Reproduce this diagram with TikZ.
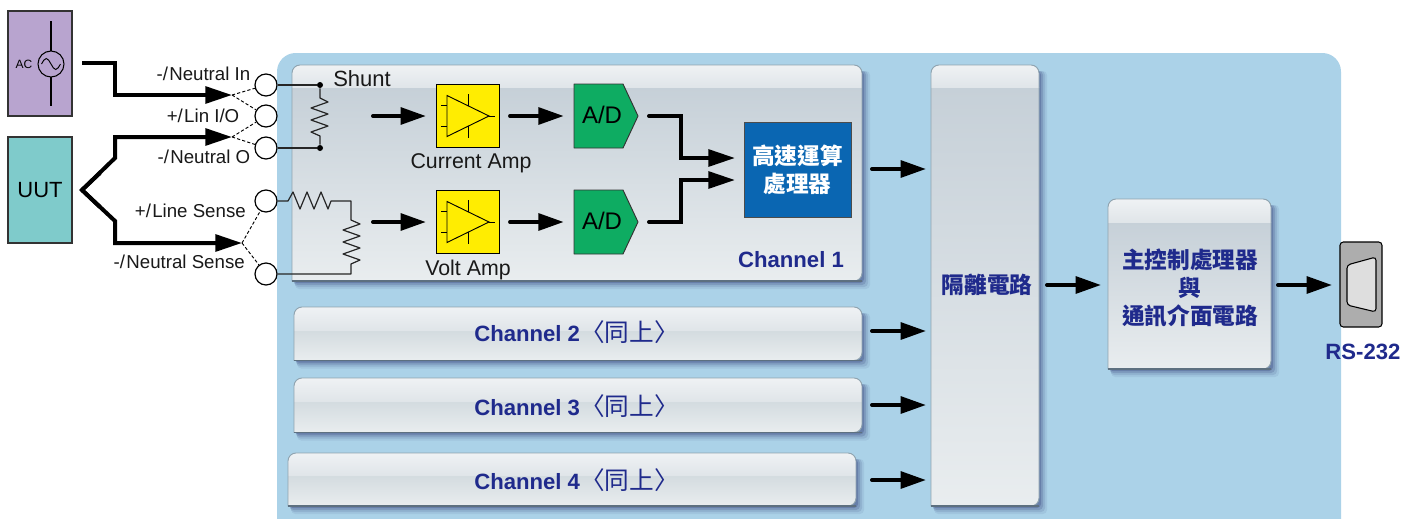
\documentclass[tikz,border=0pt]{standalone}
\usepackage{fontspec}
\setmainfont{Liberation Sans}
\newfontfamily\cjk{Noto Sans CJK TC}
\usetikzlibrary{arrows.meta,fit}
\definecolor{panel}{HTML}{ABD2E8}
\definecolor{navy}{HTML}{1F2A8C}
\definecolor{bandtop}{HTML}{EFF2F4}
\definecolor{bandbot}{HTML}{E0E5E9}
\definecolor{bodytop}{HTML}{C6D0D8}
\definecolor{bodytopb}{HTML}{D3DBDF}
\definecolor{bodybot}{HTML}{E9EDEF}
\definecolor{edgec}{HTML}{8FA3AF}
\definecolor{edgebot}{HTML}{5D7080}
\tikzset{
  x=0.75pt,y=-0.75pt,
  bigwire/.style={line width=3pt,black,line join=miter},
  wirearrow/.style={bigwire,-{Triangle[length=20pt,width=12.5pt]}},
  flowarrow/.style={line width=3pt,black,line cap=round,-{Triangle[length=19pt,width=12.5pt]}},
  thinwire/.style={line width=0.9pt,black!85},
  dashwire/.style={line width=0.7pt,black,dashed,dash pattern=on 2.4pt off 1.6pt},
  term/.style={circle,draw=black,line width=0.9pt,fill=white,minimum size=16.5pt,inner sep=0pt},
  jdot/.style={circle,fill=black,minimum size=4.5pt,inner sep=0pt},
  lbl/.style={font=\fontsize{14}{16}\selectfont,text=black!90,inner sep=0pt},
  blbl/.style={font=\fontsize{16.6}{20}\selectfont\bfseries,text=navy,inner sep=0pt,align=center},
  cjkbl/.style={font=\fontsize{17}{21}\selectfont\cjk\bfseries,text=navy,inner sep=0pt,align=center},
  ampbox/.style={draw=black,line width=0.6pt,fill=yellow!95!orange,minimum width=47.5pt,minimum height=47.5pt,inner sep=0pt},
  symb/.style={line width=0.7pt,black},
  adtext/.style={font=\fontsize{18}{20}\selectfont,text=black,inner sep=0pt},
  biglbl/.style={font=\fontsize{16}{19}\selectfont,text=black!90,inner sep=0pt},
}
\newcommand\samehint{{\fontsize{18.5}{20}\selectfont\cjk\mdseries〈同上〉}}
\newcommand\glossy[7][bodytop]{%
  \def\gpath{(#3,#6) {[rounded corners=6pt] -- (#3,#4) -- (#5,#4) -- (#5,#6)} -- cycle}%
  \foreach \s/\o in {8/.06,6/.09,4/.13,2/.18}{%
    \fill[black!70!blue,opacity=\o,rounded corners=3pt]
      (#3+\s*0.4,#4+6) rectangle (#5+\s,#6+\s);}%
  \begin{scope}
    \clip \gpath;
    \shade[top color=#1,bottom color=bodybot] (#3,#7) rectangle (#5,#6);
    \shade[top color=bandtop,bottom color=bandbot] (#3,#4) rectangle (#5,#7);
  \end{scope}
  \draw[edgec,line width=0.7pt] \gpath;
  \draw[edgebot,line width=0.9pt] (#3,#6) -- (#5,#6);
  \node[fit={(#3,#4)(#5,#6)},inner sep=0pt] (#2) {};
}
\newcommand\ampsym[1]{%
  \begin{scope}[shift={(468,#1)}]
    \draw[symb] (-21,-20.5) -- (-21,20.5) -- (21,0) -- cycle;
    \draw[symb] (-27,-10.5) -- (-21,-10.5) (-27,10.5) -- (-21,10.5) (21,0) -- (27,0)
      (0,-22) -- (0,-10) (0,10) -- (0,22);
  \end{scope}}
\begin{document}
\begin{tikzpicture}
\clip (0,0) rectangle (1417,518);
\fill[white] (0,0) rectangle (1417,518);
% panel
\fill[panel,rounded corners=14pt] (277,53) rectangle (1341,540);
% glossy boxes
\glossy{ch1}{292}{65}{862}{281}{87}
\glossy[bodytopb]{ch2}{294}{307}{862}{360.5}{330}
\glossy[bodytopb]{ch3}{294}{378}{862}{432.5}{401}
\glossy[bodytopb]{ch4}{288}{453}{856}{506}{475}
\glossy{iso}{931}{65}{1039}{506}{87}
\glossy{ctrl}{1108}{199}{1271}{369}{222}
% sources
\fill[fill={rgb,255:red,184;green,164;blue,207},draw=black!80,line width=0.8pt] (8,11) rectangle (72,116);
\node[fit={(8,11)(72,116)},inner sep=0pt] (acbox) {};
\node[fill={rgb,255:red,127;green,203;blue,203},draw=black!80,line width=0.8pt,minimum width=48pt,minimum height=79.5pt,inner sep=0pt,font=\fontsize{16.5}{20}\selectfont] (uut) at (40,190) {UUT};
\draw[symb,line width=0.8pt] (51,21) -- (51,106);
\node[circle,draw=black,line width=0.8pt,fill={rgb,255:red,184;green,164;blue,207},minimum size=19.5pt,inner sep=0pt] (acsrc) at (51,64) {};
\draw[symb] (41.5,64) sin (46.25,58.5) cos (51,64) sin (55.75,69.5) cos (60.5,64);
\node[font=\fontsize{9}{10}\selectfont,inner sep=0pt] (aclbl) at (24,64) {AC};
% terminals
\node[term] (t1) at (266,85) {};
\node[term] (t2) at (266,116) {};
\node[term] (t3) at (266,148) {};
\node[term] (t4) at (266,201) {};
\node[term] (t5) at (266,274) {};
% terminal labels
\node[lbl,anchor=east] (l1) at (250.5,74) {-/\kern1pt Neutral In};
\node[lbl,anchor=east] (l2) at (239.5,116) {+/\kern1pt Lin I/O};
\node[lbl,anchor=east] (l3) at (250.5,157) {-/\kern1pt Neutral O};
\node[lbl,anchor=east] (l4) at (246,211) {+/\kern1pt Line Sense};
\node[lbl,anchor=east] (l5) at (245,262) {-/\kern1pt Neutral Sense};
% thick wires
\coordinate (s1) at (82,63);
\coordinate (tip1) at (232,95);
\coordinate (tip2) at (232,137);
\coordinate (tip3) at (242,243);
\coordinate (uutout) at (82,190);
\draw[wirearrow] (s1) -- (115,63) -- (115,95) -- (tip1);
\draw[wirearrow] (uutout) -- (115,158) -- (115,137) -- (tip2);
\draw[wirearrow] (uutout) -- (115,221) -- (115,243) -- (tip3);
\draw[bigwire] (100,173) -- (uutout) -- (100,207);
% dashed
\draw[dashwire] (tip1) -- (t1) (tip1) -- (t2) (tip2) -- (t2) (tip2) -- (t3) (tip3) -- (t4) (tip3) -- (t5);
% shunt
\node[jdot] (d1) at (320,85) {};
\node[jdot] (d2) at (320,148) {};
\draw[thinwire] (t1) -- (d1);
\draw[thinwire] (t3) -- (d2);
\draw[thinwire,line join=round] (d1) -- (320,98) -- (328,102) -- (311,108) -- (328,114) -- (311,120) -- (328,126) -- (311,132) -- (320,136) -- (d2);
\node[biglbl,anchor=west,font=\fontsize{16.5}{19}\selectfont] (shunt) at (333,79) {Shunt};
% volt divider
\draw[thinwire,line join=round] (t4) -- (288,201) -- (293,192) -- (300,209) -- (307,192) -- (314,209) -- (321,192) -- (328,209) -- (331,201) -- (351,201) -- (351,220) -- (360,224) -- (343,230) -- (360,236) -- (343,242) -- (360,248) -- (343,254) -- (360,260) -- (351,264) -- (351,274) -- (t5);
% amps
\node[ampbox] (amp1) at (468,116) {};
\node[ampbox] (amp2) at (468,222) {};
\ampsym{116}
\ampsym{222}
\node[biglbl] (amp1l) at (471,163.5) {Current Amp};
\node[biglbl] (amp2l) at (468,269.5) {Volt Amp};
% A/D
\fill[fill={rgb,255:red,14;green,172;blue,98},draw=black!80,line width=0.7pt,line join=round] (574,84) -- (623,84) -- (638,116) -- (623,148) -- (574,148) -- cycle;
\fill[fill={rgb,255:red,14;green,172;blue,98},draw=black!80,line width=0.7pt,line join=round] (574,190) -- (623,190) -- (638,222) -- (623,254) -- (574,254) -- cycle;
\node[fit={(574,84)(638,148)},inner sep=0pt] (ad1) {};
\node[fit={(574,190)(638,254)},inner sep=0pt] (ad2) {};
\node[adtext] at (602,115) {A/D};
\node[adtext] at (602,221) {A/D};
% processor
\node[draw=black!70,line width=0.7pt,fill={rgb,255:red,10;green,102;blue,178},minimum width=80.25pt,minimum height=71.25pt,inner sep=0pt,align=center,text=white,font=\fontsize{17}{21}\selectfont\cjk\bfseries] (cpu) at (797.5,169.5) {高速運算\\處理器};
% inner arrows
\coordinate (in1) at (373,116);
\coordinate (in2) at (373,222);
\draw[flowarrow,shorten >=7.5pt] (in1) -- (amp1.west);
\draw[flowarrow,shorten >=7.5pt] (in2) -- (amp2.west);
\draw[flowarrow,shorten <=7.5pt,shorten >=7.5pt] (amp1.east) -- (ad1.west);
\draw[flowarrow,shorten <=7.5pt,shorten >=7.5pt] (amp2.east) -- (ad2.west);
\coordinate (adm1) at (735,158);
\coordinate (adm2) at (735,180);
\draw[wirearrow,line cap=round] (649,116) -- (681,116) -- (681,158) -- (adm1);
\draw[wirearrow,line cap=round] (649,222) -- (681,222) -- (681,180) -- (adm2);
% right arrows
\coordinate (e1) at (872,169);
\coordinate (e2) at (872,331);
\coordinate (e3) at (872,405);
\coordinate (e4) at (872,480);
\coordinate (i1) at (926,169);
\coordinate (i2) at (926,331);
\coordinate (i3) at (926,405);
\coordinate (i4) at (926,480);
\draw[flowarrow] (e1) -- (i1);
\draw[flowarrow] (e2) -- (i2);
\draw[flowarrow] (e3) -- (i3);
\draw[flowarrow] (e4) -- (i4);
\coordinate (o1) at (1047,285);
\coordinate (o2) at (1101,285);
\coordinate (o3) at (1278,285);
\coordinate (o4) at (1332,285);
\draw[flowarrow] (o1) -- (o2);
\draw[flowarrow] (o3) -- (o4);
% connector
\node[draw=black,line width=0.8pt,fill=black!32,rounded corners=2.5pt,minimum width=31.5pt,minimum height=63.75pt,inner sep=0pt] (rs) at (1361,284.5) {};
\draw[black,line width=0.8pt,fill=black!13,rounded corners=2.5pt] (1347,265) -- (1376,257) -- (1376,312) -- (1347,305) -- cycle;
% texts
\node[blbl] at (791,260) {Channel 1};
\node[blbl,anchor=west] at (474,332) {Channel 2\samehint};
\node[blbl,anchor=west] at (474,406) {Channel 3\samehint};
\node[blbl,anchor=west] at (474,480) {Channel 4\samehint};
\node[cjkbl] at (987,285) {隔離電路};
\node[cjkbl] at (1190,288) {主控制處理器\\與\\通訊介面電路};
\node[blbl] at (1363,352) {RS-232};
\end{tikzpicture}
\end{document}
